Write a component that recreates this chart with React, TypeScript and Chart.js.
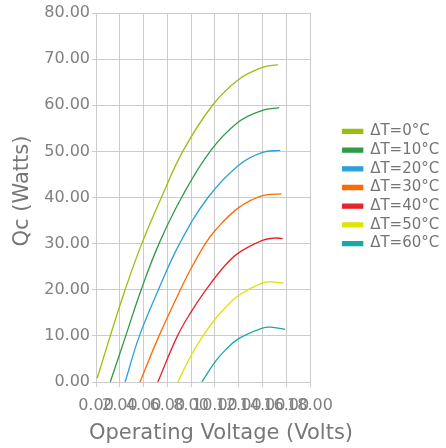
import React, { useEffect, useRef } from 'react';
import { Chart, registerables } from 'chart.js';

Chart.register(...registerables);

// ---- data ----
const seriesLabels = ['ΔT=0°C', 'ΔT=10°C', 'ΔT=20°C', 'ΔT=30°C', 'ΔT=40°C', 'ΔT=50°C', 'ΔT=60°C'];
const seriesColors = ['#97BF0D', '#2E9B47', '#2AA1DC', '#FF6A00', '#E8212A', '#DDE500', '#18A9A6'];

const voltsDT0 = [0.1, 1.2, 2.45, 3.85, 5.5, 7.3, 9.8, 12.0, 14.0, 15.3];
const qcDT0 = [0.8, 10, 20, 30, 40, 50, 60, 65.6, 68.2, 68.8];

const voltsDT10 = [1.2, 2.5, 3.8, 5.3, 7.2, 9.6, 12.0, 14.0, 15.4];
const qcDT10 = [0, 10, 20, 30, 40, 50, 56.4, 58.9, 59.5];

const voltsDT20 = [2.45, 3.65, 5.25, 7.03, 9.42, 12.0, 14.0, 15.5];
const qcDT20 = [0, 10, 20, 30, 40, 47.0, 49.8, 50.2];

const voltsDT30 = [3.7, 5.3, 7.1, 7.87, 9.14, 10.0, 12.0, 14.0, 15.6];
const qcDT30 = [0, 10, 20, 24.0, 29.8, 32.8, 37.8, 40.4, 40.8];

const voltsDT40 = [5.2, 6.85, 8.0, 9.14, 10.83, 12.0, 14.0, 15.0, 15.7];
const qcDT40 = [0, 10, 15.2, 19.6, 25.2, 28.0, 30.7, 31.2, 31.1];

const voltsDT50 = [6.89, 8.0, 9.0, 10.0, 10.83, 12.0, 14.0, 14.8, 15.8];
const qcDT50 = [0, 5.8, 10, 13.6, 16.0, 18.8, 21.5, 21.7, 21.4];

const voltsDT60 = [8.9, 10.0, 10.83, 12.0, 14.0, 14.7, 15.9];
const qcDT60 = [0, 4.3, 6.8, 9.4, 11.7, 11.9, 11.4];

const seriesVolts = [voltsDT0, voltsDT10, voltsDT20, voltsDT30, voltsDT40, voltsDT50, voltsDT60];
const seriesQc = [qcDT0, qcDT10, qcDT20, qcDT30, qcDT40, qcDT50, qcDT60];

const xMin = 0, xMax = 18, xStep = 2;
const yMin = 0, yMax = 80, yStep = 10;
const xTitle = 'Operating Voltage (Volts)';
const yTitle = 'Qc (Watts)';

const FONT = '"DejaVu Sans", sans-serif';
const W = 446, H = 448;

const axisTitles = {
  id: 'axisTitles',
  afterDraw(chart: any) {
    const { ctx } = chart;
    ctx.save();
    ctx.fillStyle = '#777777';
    ctx.font = `21px ${FONT}`;
    ctx.textAlign = 'center';
    ctx.textBaseline = 'middle';
    ctx.fillText(xTitle, 221, 434);
    ctx.translate(23, 191);
    ctx.rotate(-Math.PI / 2);
    ctx.fillText(yTitle, 0, 0);
    ctx.restore();
  },
};

const legendPlacement = {
  id: 'legendPlacement',
  beforeUpdate(chart: any) {
    const lg = chart.legend;
    if (lg && !lg.__patched) {
      const origFit = lg.fit;
      lg.fit = function () {
        origFit.call(this);
        this.width = 136;
      };
      lg.__patched = true;
    }
  },
  afterLayout(chart: any) {
    const lg = chart.legend;
    if (!lg) return;
    lg.left += 29;
    lg.right += 29;
    lg.top -= 43;
    lg.bottom -= 43;
  },
};

export default function App() {
  const ref = useRef<HTMLCanvasElement>(null);
  useEffect(() => {
    document.body.style.margin = '0';
    const datasets = seriesLabels.map((label, i) => ({
      label,
      data: seriesVolts[i].map((v, j) => ({ x: v, y: seriesQc[i][j] })),
      borderColor: seriesColors[i],
      backgroundColor: seriesColors[i],
      borderWidth: 1.3,
      pointRadius: 0,
      pointHoverRadius: 0,
      showLine: true,
      fill: false,
      tension: 0.4,
    }));
    const chart = new Chart(ref.current!, {
      type: 'scatter',
      data: { datasets },
      plugins: [legendPlacement, axisTitles],
      options: {
        animation: false,
        responsive: false,
        devicePixelRatio: 1,
        layout: { padding: { left: 0, right: 0, top: 13, bottom: 0 } },
        plugins: {
          tooltip: { enabled: false },
          legend: {
            display: true,
            position: 'right',
            align: 'center',
            labels: {
              boxWidth: 20,
              boxHeight: 4,
              padding: 3.7,
              color: '#757575',
              font: { family: FONT, size: 15 },
            },
          },
        },
        scales: {
          x: {
            type: 'linear',
            min: xMin,
            max: xMax,
            afterFit: (s: any) => { s.height = 66; },
            ticks: {
              stepSize: xStep,
              autoSkip: false,
              maxRotation: 0,
              minRotation: 0,
              padding: 9,
              color: '#808080',
              font: { family: FONT, size: 16 },
              callback: (v: any) => Number(v).toFixed(2),
            },
            grid: { color: '#cccccc', lineWidth: 1, tickLength: 5 },
            border: { color: '#cccccc' },
            title: { display: false },
          },
          y: {
            type: 'linear',
            min: yMin,
            max: yMax,
            afterFit: (s: any) => { s.width = 96; },
            ticks: {
              stepSize: yStep,
              padding: 2,
              color: '#808080',
              font: { family: FONT, size: 16 },
              callback: (v: any) => Number(v).toFixed(2),
            },
            grid: { color: '#cccccc', lineWidth: 1, tickLength: 4 },
            border: { color: '#cccccc' },
            title: { display: false },
          },
        },
      },
    });
    return () => chart.destroy();
  }, []);
  return (
    <div style={{ width: W, height: H }}>
      <canvas ref={ref} width={W} height={H} style={{ width: W, height: H, display: 'block' }} />
    </div>
  );
}
